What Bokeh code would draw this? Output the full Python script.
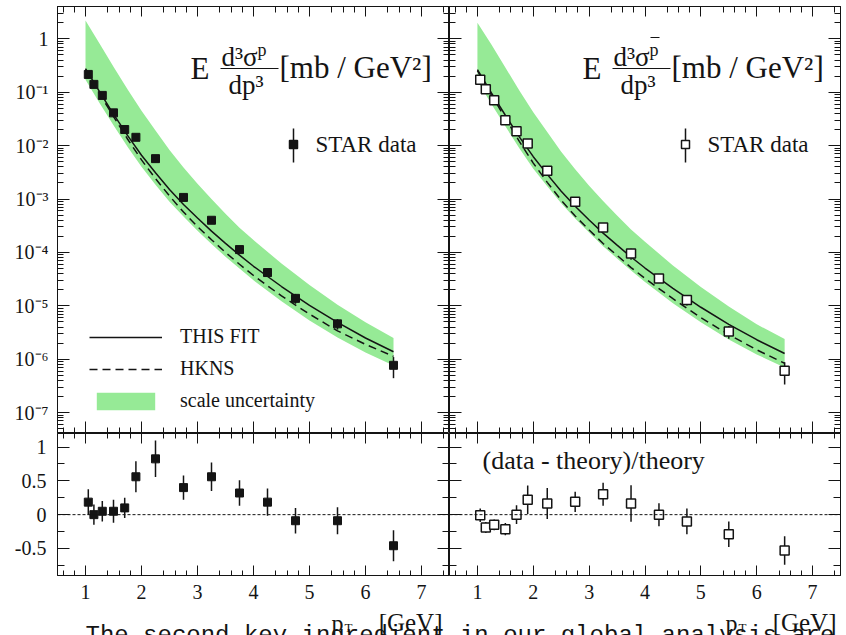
import numpy as np
from bokeh.plotting import figure
from bokeh.models import (ColumnDataSource, FixedTicker, LinearAxis, LogAxis, Range1d,
                          Span, Label, Legend, LegendItem, Arrow, BoxAnnotation)
from bokeh.layouts import row, column
from bokeh.embed import file_html
from bokeh.resources import INLINE

# ---------------- data ----------------
PT = [1.05, 1.15, 1.3, 1.5, 1.7, 1.9, 2.25, 2.75, 3.25, 3.75, 4.25, 4.75, 5.5, 6.5]

P_DATA = [0.215, 0.14, 0.087, 0.041, 0.020, 0.0143, 0.0057, 1.07e-3, 4.0e-4,
          1.13e-4, 4.2e-5, 1.38e-5, 4.6e-6, 7.7e-7]
PBAR_DATA = [0.171, 0.113, 0.0703, 0.0297, 0.0185, 0.0109, 3.37e-3, 8.9e-4, 2.93e-4,
             9.5e-5, 3.25e-5, 1.29e-5, 3.3e-6, 6.1e-7]

P_RATIO = [0.185, 0.0, 0.05, 0.05, 0.10, 0.56, 0.825, 0.40, 0.56, 0.32, 0.185,
           -0.09, -0.09, -0.46]
P_RATIO_ERR = [0.19, 0.15, 0.15, 0.17, 0.15, 0.23, 0.27, 0.18, 0.21, 0.19, 0.20,
               0.19, 0.20, 0.23]
PBAR_RATIO = [-0.01, -0.19, -0.15, -0.215, 0.0, 0.22, 0.165, 0.19, 0.30, 0.165, 0.0,
              -0.10, -0.29, -0.53]
PBAR_RATIO_ERR = [0.10, 0.08, 0.08, 0.09, 0.14, 0.21, 0.23, 0.15, 0.17, 0.27, 0.17,
                  0.19, 0.19, 0.21]

CURVE_PT = [1.0, 1.25, 1.5, 1.75, 2.0, 2.25, 2.5, 2.75, 3.0, 3.25, 3.5, 3.75, 4.0,
            4.5, 5.0, 5.5, 6.0, 6.5]

P_FIT = [0.275, 0.102, 0.0389, 0.0155, 0.0066, 3.09e-3, 1.51e-3, 7.9e-4, 4.4e-4,
         2.5e-4, 1.48e-4, 8.9e-5, 5.5e-5, 2.3e-5, 1.02e-5, 4.9e-6, 2.5e-6, 1.38e-6]
P_HKNS = [0.263, 0.095, 0.035, 0.0133, 0.0054, 2.41e-3, 1.14e-3, 5.7e-4, 3.05e-4,
          1.73e-4, 1.0e-4, 6.0e-5, 3.7e-5, 1.53e-5, 7.0e-6, 3.4e-6, 1.9e-6, 1.13e-6]
P_BAND_HI = [2.2, 0.82, 0.30, 0.113, 0.045, 0.0192, 8.3e-3, 3.9e-3, 1.94e-3, 1.0e-3,
             5.3e-4, 2.9e-4, 1.7e-4, 6.2e-5, 2.45e-5, 1.05e-5, 4.9e-6, 2.5e-6]
P_BAND_LO = [0.17, 0.063, 0.024, 0.0095, 0.0040, 1.85e-3, 8.9e-4, 4.7e-4, 2.55e-4,
             1.43e-4, 8.3e-5, 5.0e-5, 3.0e-5, 1.22e-5, 5.3e-6, 2.55e-6, 1.33e-6, 7.6e-7]

PBAR_FIT = [0.265, 0.097, 0.037, 0.0146, 0.0062, 2.89e-3, 1.40e-3, 7.3e-4, 4.05e-4,
            2.3e-4, 1.37e-4, 8.2e-5, 5.1e-5, 2.12e-5, 9.4e-6, 4.5e-6, 2.32e-6, 1.28e-6]
PBAR_HKNS = [0.252, 0.089, 0.0326, 0.0120, 0.0047, 2.05e-3, 9.5e-4, 4.8e-4, 2.63e-4,
             1.47e-4, 8.8e-5, 5.2e-5, 3.26e-5, 1.36e-5, 6.0e-6, 2.9e-6, 1.5e-6, 8.4e-7]
PBAR_BAND_HI = [2.0, 0.78, 0.29, 0.107, 0.042, 0.0179, 7.7e-3, 3.6e-3, 1.78e-3, 9.2e-4,
                4.9e-4, 2.7e-4, 1.58e-4, 5.7e-5, 2.26e-5, 9.7e-6, 4.5e-6, 2.4e-6]
PBAR_BAND_LO = [0.164, 0.060, 0.023, 0.0089, 0.0037, 1.73e-3, 8.3e-4, 4.3e-4, 2.35e-4,
                1.31e-4, 7.7e-5, 4.6e-5, 2.8e-5, 1.12e-5, 4.9e-6, 2.34e-6, 1.23e-6, 7.0e-7]

X_TICKS = [1, 2, 3, 4, 5, 6, 7]
LOG_TICK_LABELS = ["10⁻⁷", "10⁻⁶", "10⁻⁵", "10⁻⁴", "10⁻³", "10⁻²", "10⁻¹", "1"]
RATIO_TICKS = [-0.5, 0.0, 0.5, 1.0]
RATIO_TICK_LABELS = ["-0.5", "0", "0.5", "1"]

LEGEND_LABELS = ["THIS FIT", "HKNS", "scale uncertainty"]
DATA_LABEL = "STAR data"
RATIO_TITLE = "(data - theory)/theory"
CUT_SENTENCE = "The second key ingredient in our global analysis are"

# ---------------- style ----------------
FONT = "Liberation Serif"
INK = "#141414"
GREEN = "#96ea96"

X_MINOR = [round(0.6 + 0.2 * i, 1) for i in range(35) if (i + 2) % 5 != 0]
LOG_MAJOR = [10.0 ** k for k in range(-7, 1)]
LOG_MINOR = [m * 10.0 ** k for k in range(-8, 1) for m in range(2, 10)]
RATIO_MINOR = [-0.75, -0.25, 0.25, 0.75]

X_TICKER = FixedTicker(ticks=X_TICKS, minor_ticks=X_MINOR)
LOG_TICKER = FixedTicker(ticks=LOG_MAJOR, minor_ticks=LOG_MINOR)
RATIO_TICKER = FixedTicker(ticks=RATIO_TICKS, minor_ticks=RATIO_MINOR)


def style_axis(ax, ticker, show, major_len, minor_len, standoff=0, overrides=None,
               size="20px"):
    ax.ticker = ticker
    ax.major_tick_in = major_len
    ax.major_tick_out = 0
    ax.minor_tick_in = minor_len
    ax.minor_tick_out = 0
    ax.axis_line_color = INK
    ax.major_tick_line_color = INK
    ax.minor_tick_line_color = INK
    ax.major_label_text_font = FONT
    ax.major_label_standoff = standoff
    if show:
        ax.major_label_text_font_size = size
        ax.major_label_text_color = INK
        if overrides:
            ax.major_label_overrides = overrides
    else:
        ax.major_label_text_font_size = "0px"
        ax.major_label_text_color = None


def make_panel(width, height, log, y_start, y_end, b_left, b_right, b_top, b_bottom):
    p = figure(width=width, height=height, output_backend="svg", toolbar_location=None,
               x_range=Range1d(0.5, 7.5), y_range=Range1d(y_start, y_end),
               y_axis_type="log" if log else "linear",
               min_border=0, min_border_left=b_left, min_border_right=b_right,
               min_border_top=b_top, min_border_bottom=b_bottom)
    p.grid.visible = False
    p.outline_line_color = INK
    p.background_fill_color = "white"
    p.border_fill_color = "white"
    p.add_layout(LinearAxis(), "above")
    p.add_layout(LogAxis() if log else LinearAxis(), "right")
    return p


def lab(p, x, y, text, size, font=FONT, align="left"):
    # y is the vertical centre of the text, in px from the bottom of the frame
    p.add_layout(Label(x=x, y=y, x_units="screen", y_units="screen", text=text,
                       text_font=font, text_font_size=size, text_align=align,
                       text_baseline="middle", text_color=INK))


def hline(p, x0, x1, y, width=1.2):
    p.add_layout(Arrow(start=None, end=None, x_start=x0, y_start=y, x_end=x1, y_end=y,
                       start_units="screen", end_units="screen",
                       line_color=INK, line_width=width))


def vline(p, x, y0, y1, width=1.5):
    p.add_layout(Arrow(start=None, end=None, x_start=x, y_start=y0, x_end=x, y_end=y1,
                       start_units="screen", end_units="screen",
                       line_color=INK, line_width=width))


LOG_OVERRIDES = {t: s for t, s in zip(LOG_MAJOR, LOG_TICK_LABELS)}
RATIO_OVERRIDES = {t: s for t, s in zip(RATIO_TICKS, RATIO_TICK_LABELS)}

TOP_H, BOT_H, STRIP_H = 433, 174, 28
LEFT_W, RIGHT_W = 449, 397
Y_LOG = (4.07e-8, 4.02)
Y_RATIO = (-0.9, 1.2)

tl = make_panel(LEFT_W, TOP_H, True, *Y_LOG, 57, 0, 6, 0)
tr = make_panel(RIGHT_W, TOP_H, True, *Y_LOG, 0, 6, 6, 0)
bl = make_panel(LEFT_W, BOT_H, False, *Y_RATIO, 57, 0, 0, 32)
br = make_panel(RIGHT_W, BOT_H, False, *Y_RATIO, 0, 6, 0, 32)

for p, show in ((tl, True), (tr, False)):
    style_axis(p.below[0], X_TICKER, False, 12, 6)
    style_axis(p.above[0], X_TICKER, False, 10, 6)
    style_axis(p.left[0], LOG_TICKER, show, 12, 6, standoff=9, overrides=LOG_OVERRIDES)
    style_axis(p.right[0], LOG_TICKER, False, 12, 6)

for p, show in ((bl, True), (br, False)):
    style_axis(p.below[0], X_TICKER, True, 10, 5, standoff=9)
    style_axis(p.above[0], X_TICKER, False, 10, 5)
    style_axis(p.left[0], RATIO_TICKER, show, 12, 7, standoff=11, overrides=RATIO_OVERRIDES)
    style_axis(p.right[0], RATIO_TICKER, False, 12, 7)


def top_panel(p, data, ratio, rerr, fit, hkns, lo, hi, open_marker):
    err = [re * d / (1.0 + r) for d, r, re in zip(data, ratio, rerr)]
    pts = ColumnDataSource(dict(pt=PT, y=data,
                                lo=[d - e for d, e in zip(data, err)],
                                hi=[d + e for d, e in zip(data, err)]))
    cur = ColumnDataSource(dict(x=CURVE_PT, fit=fit, hkns=hkns, lo=lo, hi=hi))
    band = p.varea(x="x", y1="lo", y2="hi", source=cur, fill_color=GREEN, fill_alpha=1.0)
    l_fit = p.line("x", "fit", source=cur, line_color=INK, line_width=1.5)
    l_hk = p.line("x", "hkns", source=cur, line_color=INK, line_width=1.5, line_dash="8 5")
    p.segment(x0="pt", y0="lo", x1="pt", y1="hi", source=pts, line_color=INK, line_width=1.5)
    if open_marker:
        p.scatter("pt", "y", source=pts, marker="square", size=9, fill_color="white",
                  line_color=INK, line_width=1.5)
    else:
        p.scatter("pt", "y", source=pts, marker="square", size=8, fill_color=INK,
                  line_color=INK)
    return band, l_fit, l_hk


def ratio_panel(p, ratio, rerr, open_marker):
    src = ColumnDataSource(dict(pt=PT, r=ratio,
                                lo=[r - e for r, e in zip(ratio, rerr)],
                                hi=[r + e for r, e in zip(ratio, rerr)]))
    p.add_layout(Span(location=0, dimension="width", line_color=INK, line_width=1,
                      line_dash="3 2"))
    p.segment(x0="pt", y0="lo", x1="pt", y1="hi", source=src, line_color=INK, line_width=1.5)
    if open_marker:
        p.scatter("pt", "r", source=src, marker="square", size=9, fill_color="white",
                  line_color=INK, line_width=1.5)
    else:
        p.scatter("pt", "r", source=src, marker="square", size=8, fill_color=INK,
                  line_color=INK)


band, l_fit, l_hk = top_panel(tl, P_DATA, P_RATIO, P_RATIO_ERR, P_FIT, P_HKNS,
                              P_BAND_LO, P_BAND_HI, False)
top_panel(tr, PBAR_DATA, PBAR_RATIO, PBAR_RATIO_ERR, PBAR_FIT, PBAR_HKNS,
          PBAR_BAND_LO, PBAR_BAND_HI, True)
ratio_panel(bl, P_RATIO, P_RATIO_ERR, False)
ratio_panel(br, PBAR_RATIO, PBAR_RATIO_ERR, True)

legend = Legend(items=[LegendItem(label=LEGEND_LABELS[0], renderers=[l_fit]),
                       LegendItem(label=LEGEND_LABELS[1], renderers=[l_hk]),
                       LegendItem(label=LEGEND_LABELS[2], renderers=[band])],
                location=(32, 21), glyph_width=73, glyph_height=22, spacing=9,
                padding=0, margin=0, label_standoff=18, label_height=22,
                label_text_font=FONT, label_text_font_size="20px",
                label_text_color=INK, background_fill_alpha=0, border_line_color=None)
tl.add_layout(legend)


def formula(p, bar_over_p):
    lab(p, 133, 365, "E", "31px")
    lab(p, 164, 377, "d³σ", "27px")
    lab(p, 200, 384, "p", "18px")
    if bar_over_p:
        hline(p, 201, 210, 396, 1.0)
    hline(p, 163, 221, 365, 1.2)
    lab(p, 171, 349, "dp³", "27px")
    lab(p, 222, 366, "[mb / GeV²]", "31px")


def data_key(p, open_marker):
    vline(p, 236, 271, 305)
    p.add_layout(BoxAnnotation(left=232, right=240, bottom=285, top=293,
                               left_units="screen", right_units="screen",
                               bottom_units="screen", top_units="screen",
                               fill_color="white" if open_marker else INK, fill_alpha=1.0,
                               line_color=INK, line_width=1.5, line_alpha=1.0))
    lab(p, 258, 289, DATA_LABEL, "23px")


formula(tl, False)
formula(tr, True)
data_key(tl, False)
data_key(tr, True)

lab(br, 33, 115, RATIO_TITLE, "26px")

# strip below the panels: axis titles and the clipped running text of the page
strip = figure(width=LEFT_W + RIGHT_W, height=STRIP_H, output_backend="svg",
               toolbar_location=None, x_range=Range1d(0, 1), y_range=Range1d(0, 1),
               x_axis_location=None, y_axis_location=None, min_border=0,
               outline_line_color=None)
strip.grid.visible = False
strip.background_fill_color = "white"
strip.border_fill_color = "white"

lab(strip, 85, 0, CUT_SENTENCE, "24px", font="Liberation Mono")
for x0 in (331, 725):
    lab(strip, x0, 13, "p", "24px")
    lab(strip, x0 + 13, 8, "T", "13px")
    lab(strip, x0 + 111, 13, "[GeV]", "25px", align="right")

layout = column(row(tl, tr), row(bl, br), strip)
open("out.html", "w").write(file_html(layout, INLINE, title="STAR proton spectra"))
